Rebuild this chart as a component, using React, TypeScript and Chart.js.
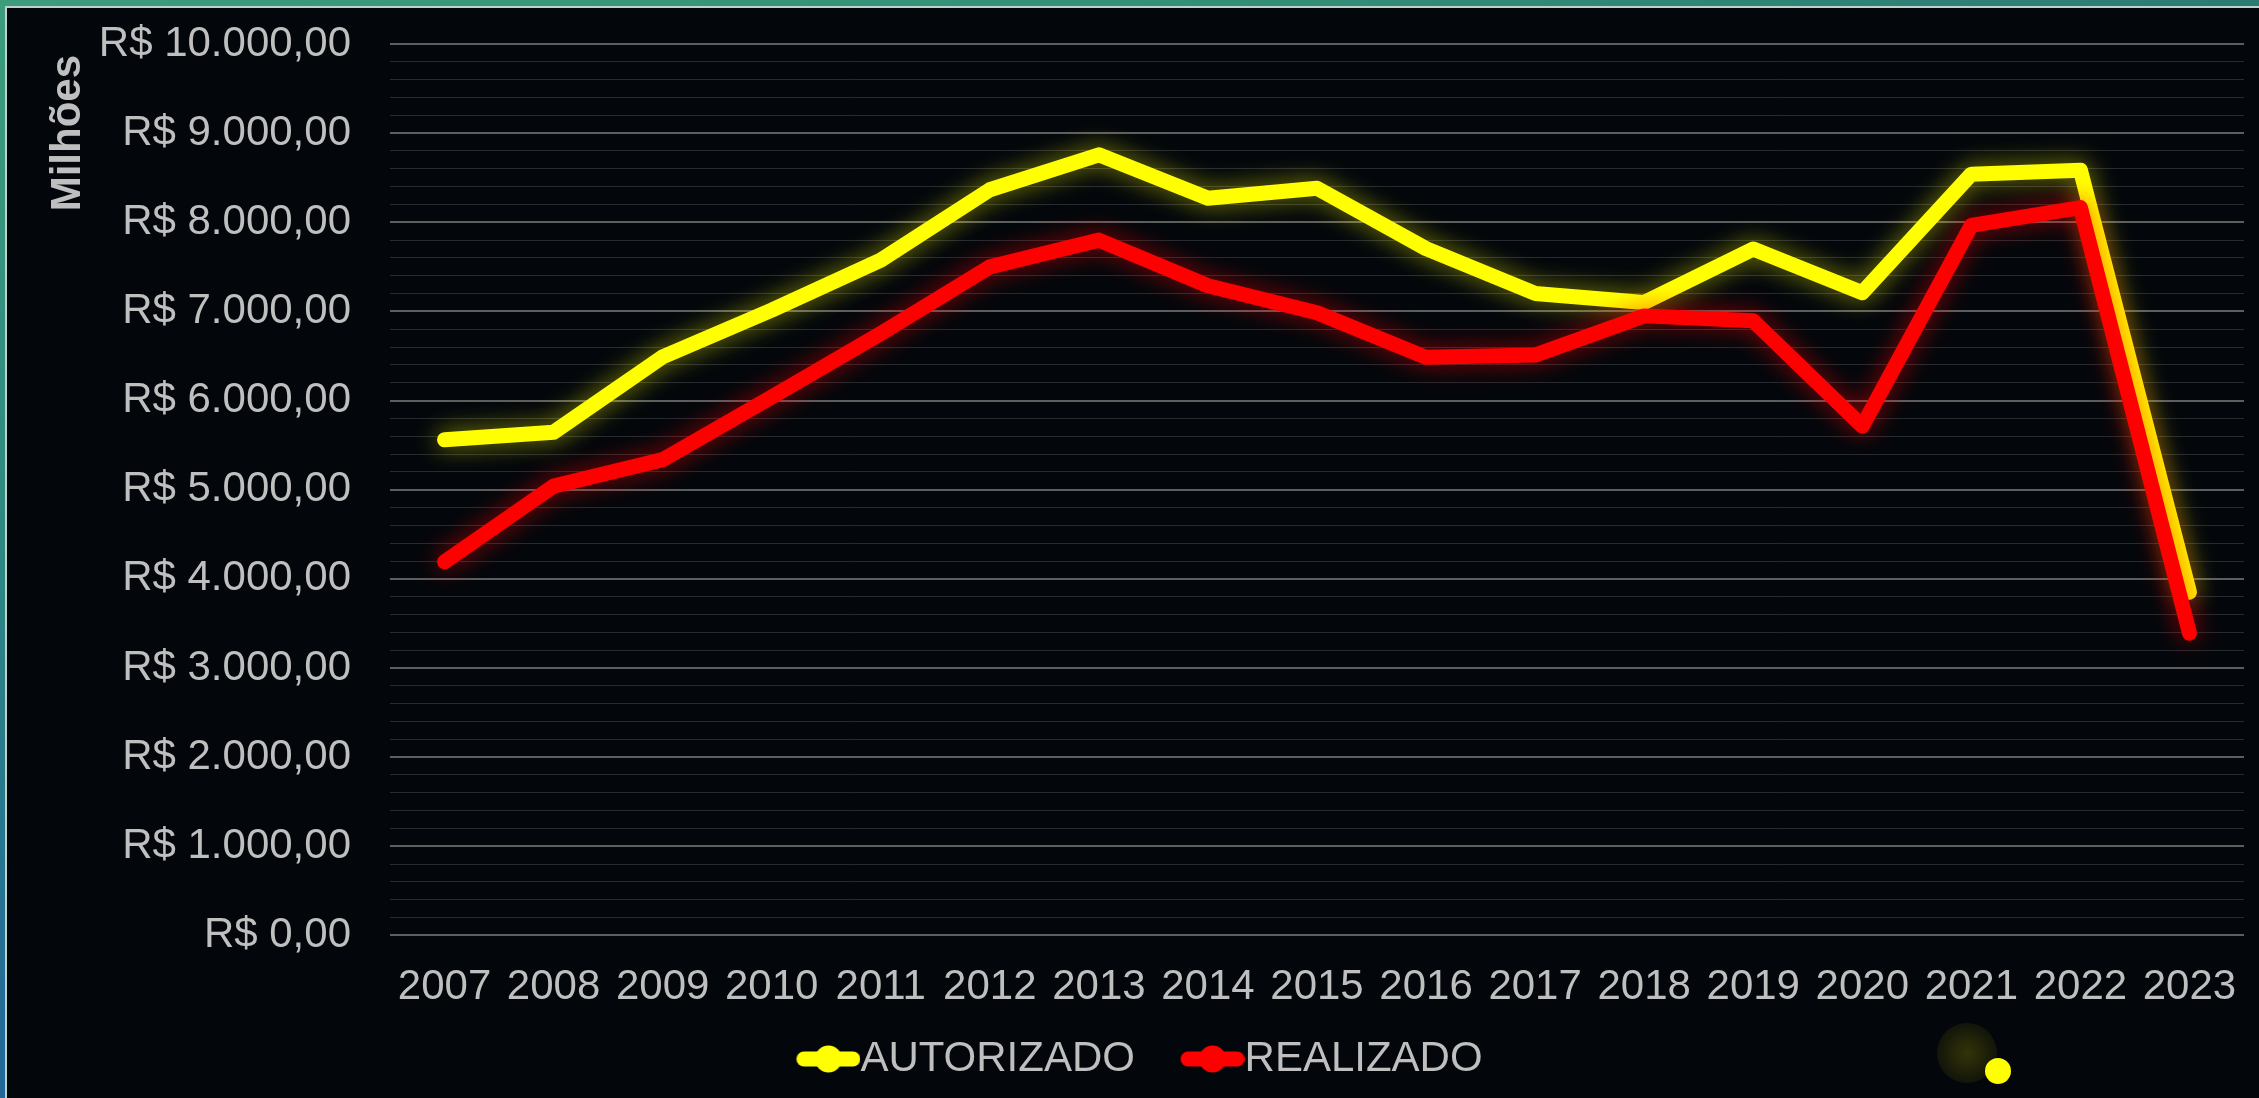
import React, { useEffect, useRef } from 'react';
import { Chart, registerables } from 'chart.js';

Chart.register(...registerables);

// ---- data ----
const years = ['2007', '2008', '2009', '2010', '2011', '2012', '2013', '2014', '2015', '2016', '2017', '2018', '2019', '2020', '2021', '2022', '2023'];
const autorizado = [5560, 5645, 6490, 7015, 7575, 8365, 8757, 8270, 8382, 7705, 7202, 7100, 7700, 7210, 8540, 8585, 3850];
const realizado = [4190, 5040, 5337, 6040, 6752, 7500, 7800, 7288, 6985, 6485, 6510, 6950, 6895, 5712, 7965, 8165, 3390];
const seriesNames = ['AUTORIZADO', 'REALIZADO'];
const seriesColors = ['#ffff00', '#ff0000'];
const glowColors = ['rgba(255,255,0,0.55)', 'rgba(255,0,0,0.6)'];
const yMin = 0;
const yMax = 10000;
const yStep = 200;
const yMajor = 1000;
const yTitle = 'Milhões';

const FONT = "'Liberation Sans', Arial, sans-serif";
const TEXT = '#bfbfbf';

const fmtBRL = (v: number) => {
  const s = Math.round(v).toString().replace(/\B(?=(\d{3})+(?!\d))/g, '.');
  return 'R$ ' + s + ',00';
};

function makeMarker(color: string) {
  const W = 113;
  const H = 30;
  const c = document.createElement('canvas');
  c.width = W;
  c.height = H;
  const g = c.getContext('2d')!;
  const vis = 64;
  const x0 = W - vis;
  g.strokeStyle = color;
  g.fillStyle = color;
  g.lineWidth = 15;
  g.lineCap = 'round';
  g.beginPath();
  g.moveTo(x0 + 7.5, H / 2);
  g.lineTo(W - 7.5, H / 2);
  g.stroke();
  g.beginPath();
  g.arc(x0 + vis / 2, H / 2, 13.5, 0, Math.PI * 2);
  g.fill();
  return c;
}

const glowPlugin = {
  id: 'glow',
  beforeDatasetDraw(chart: any, args: any) {
    const ds = chart.data.datasets[args.index];
    chart.ctx.save();
    chart.ctx.shadowColor = ds.glowColor;
    chart.ctx.shadowBlur = 24;
  },
  afterDatasetDraw(chart: any) {
    chart.ctx.restore();
  },
};

const titlePlugin = {
  id: 'yTitleManual',
  afterDraw(chart: any) {
    const ctx = chart.ctx;
    const y = chart.scales.y;
    ctx.save();
    ctx.font = `bold 42px ${FONT}`;
    ctx.fillStyle = TEXT;
    ctx.translate(73, y.getPixelForValue(yMax) + 11);
    ctx.rotate(-Math.PI / 2);
    ctx.textAlign = 'right';
    ctx.textBaseline = 'alphabetic';
    ctx.fillText(yTitle, 0, 0);
    ctx.restore();
  },
};

export default function App() {
  const ref = useRef<HTMLCanvasElement>(null);

  useEffect(() => {
    const canvas = ref.current!;
    const markers = seriesColors.map((c) => makeMarker(c));
    const chart = new Chart(canvas, {
      type: 'line',
      data: {
        labels: years,
        datasets: [
          {
            label: seriesNames[0],
            data: autorizado,
            borderColor: seriesColors[0],
            backgroundColor: seriesColors[0],
            borderWidth: 15,
            pointRadius: 0,
            tension: 0,
            borderCapStyle: 'round',
            borderJoinStyle: 'round',
            order: 1,
            glowColor: glowColors[0],
          } as any,
          {
            label: seriesNames[1],
            data: realizado,
            borderColor: seriesColors[1],
            backgroundColor: seriesColors[1],
            borderWidth: 15,
            pointRadius: 0,
            tension: 0,
            borderCapStyle: 'round',
            borderJoinStyle: 'round',
            order: 0,
            glowColor: glowColors[1],
          } as any,
        ],
      },
      options: {
        responsive: false,
        animation: false,
        events: [],
        layout: { padding: { left: 0, right: 15, top: 36, bottom: 8 } },
        plugins: {
          tooltip: { enabled: false },
          legend: {
            position: 'bottom',
            labels: {
              color: TEXT,
              font: { family: FONT, size: 42 },
              usePointStyle: true,
              pointStyleWidth: 71,
              boxHeight: 42,
              padding: 17.6,
              generateLabels: (ch: any) =>
                ch.data.datasets.map((ds: any, i: number) => ({
                  text: ds.label,
                  pointStyle: markers[i],
                  fillStyle: 'transparent',
                  strokeStyle: 'transparent',
                  lineWidth: 0,
                  fontColor: TEXT,
                  hidden: false,
                  datasetIndex: i,
                })),
            },
          },
        },
        scales: {
          x: {
            offset: true,
            grid: { display: false, drawTicks: false },
            border: { display: false },
            ticks: {
              color: TEXT,
              font: { family: FONT, size: 42 },
              padding: 27,
              maxRotation: 0,
              autoSkip: false,
            },
            afterFit: (s: any) => {
              s.height = 85;
              s.paddingLeft = 0;
              s.paddingRight = 0;
            },
          },
          y: {
            min: yMin,
            max: yMax,
            grid: {
              drawTicks: false,
              color: (c: any) => (c.tick && c.tick.value % yMajor === 0 ? '#5e5e5e' : '#272b30'),
              lineWidth: (c: any) => (c.tick && c.tick.value % yMajor === 0 ? 2 : 1),
            },
            border: { display: false },
            ticks: {
              stepSize: yStep,
              autoSkip: false,
              maxTicksLimit: 100,
              padding: 39,
              color: TEXT,
              font: { family: FONT, size: 42 },
              callback: (v: any) => (Number(v) % yMajor === 0 ? fmtBRL(Number(v)) : ''),
            },
            afterFit: (s: any) => {
              s.width = 383;
              s.paddingTop = 0;
              s.paddingBottom = 0;
            },
          },
        },
      },
      plugins: [glowPlugin, titlePlugin],
    });
    return () => chart.destroy();
  }, []);

  return (
    <div
      style={{
        position: 'absolute',
        left: 0,
        top: 0,
        width: 2259,
        height: 1098,
        overflow: 'hidden',
        background: 'linear-gradient(180deg, #3c9c7c 0%, #2f8a80 45%, #22669a 100%)',
      }}
    >
      <div
        style={{
          position: 'absolute',
          left: 0,
          top: 0,
          width: 2259,
          height: 8,
          background: 'linear-gradient(90deg, #3c9c7c 0%, #349077 50%, #2c7b73 100%)',
        }}
      />
      <div
        style={{
          position: 'absolute',
          left: 5,
          top: 6,
          width: 2254,
          height: 1092,
          background: '#bcd3cc',
        }}
      />
      <div
        style={{
          position: 'absolute',
          left: 7,
          top: 8,
          width: 2252,
          height: 1090,
          background: '#03070b',
        }}
      >
        <canvas ref={ref} width={2252} height={1090} style={{ display: 'block', width: 2252, height: 1090 }} />
      </div>
      <div
        style={{
          position: 'absolute',
          left: 1967 - 30,
          top: 1053 - 30,
          width: 60,
          height: 60,
          borderRadius: '50%',
          background: 'radial-gradient(circle, rgba(60,60,8,0.85) 0%, rgba(50,50,8,0.6) 45%, rgba(3,7,11,0) 100%)',
        }}
      />
      <div
        style={{
          position: 'absolute',
          left: 1998 - 13,
          top: 1071 - 13,
          width: 26,
          height: 26,
          borderRadius: '50%',
          background: '#ffff00',
        }}
      />
    </div>
  );
}
